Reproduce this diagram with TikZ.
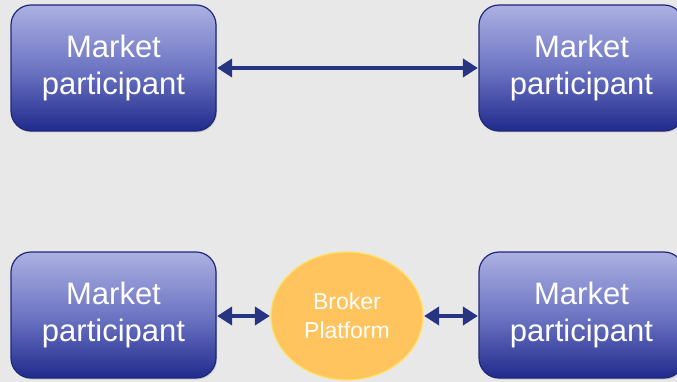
\documentclass[tikz,border=0pt]{standalone}
\usepackage{fontspec}
\setmainfont{Liberation Sans}
\usetikzlibrary{arrows.meta,shapes.geometric,shadows}
\definecolor{bg}{RGB}{232,232,232}
\definecolor{boxtop}{RGB}{172,176,226}
\definecolor{boxmid}{RGB}{110,118,196}
\definecolor{boxbot}{RGB}{32,42,140}
\definecolor{boxline}{RGB}{30,40,120}
\definecolor{brokerfill}{RGB}{255,196,94}
\definecolor{brokerline}{RGB}{255,226,100}
\definecolor{arrowc}{RGB}{38,52,130}
\tikzset{
  participant/.style={rectangle, rounded corners=20pt, draw=boxline, line width=1.2pt,
    top color=boxtop, bottom color=boxbot, middle color=boxmid,
    minimum width=205pt, minimum height=126pt, inner sep=0pt,
    text=white, align=center, font=\fontsize{31}{37}\selectfont,
    drop shadow={opacity=0.25, shadow xshift=1pt, shadow yshift=-1.5pt}},
  broker/.style={ellipse, draw=brokerline, line width=1.2pt, fill=brokerfill,
    minimum width=152pt, minimum height=128pt, inner sep=0pt,
    text=white, align=center, font=\fontsize{23}{29}\selectfont},
  link/.style={draw=arrowc, line width=4.5pt, {Triangle[length=15pt,width=18pt]}-{Triangle[length=15pt,width=18pt]}, shorten <=0.5pt, shorten >=0.5pt}
}
\begin{document}
\begin{tikzpicture}[x=1pt,y=-1pt]
\fill[bg] (0,0) rectangle (677,382);
\useasboundingbox (0,0) rectangle (677,382);
\node[participant] (a1) at (113.5,68) {Market\\participant};
\node[participant] (b1) at (581.5,68) {Market\\participant};
\node[participant] (a2) at (113.5,315) {Market\\participant};
\node[participant] (b2) at (581.5,315) {Market\\participant};
\node[broker] (br) at (347,316) {Broker\\Platform};
\draw[link] (a1) -- (b1);
\draw[link] (a2.east |- br) -- (br.west);
\draw[link] (br.east) -- (b2.west |- br);
\end{tikzpicture}
\end{document}
